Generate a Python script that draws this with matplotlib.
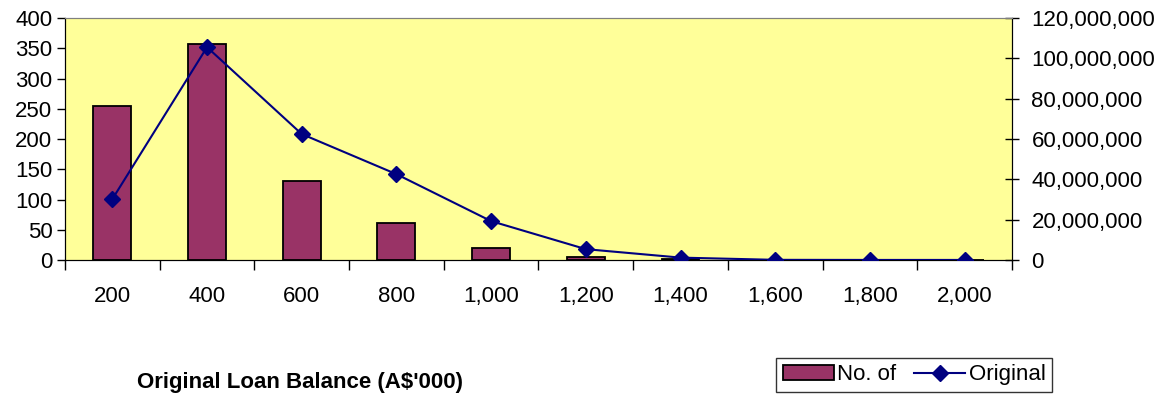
import numpy as np
import matplotlib.pyplot as plt
from matplotlib.ticker import FuncFormatter

plt.rcParams['font.family'] = ['Liberation Sans', 'DejaVu Sans']

balance = ['200', '400', '600', '800', '1,000', '1,200', '1,400', '1,600', '1,800', '2,000']
no_of_loans = [254, 357, 130, 62, 20, 5, 1.5, 0, 0, 0]
original_bal = [30.2e6, 105.6e6, 62.5e6, 42.6e6, 19.3e6, 5.4e6, 1.2e6, 0.1e6, 0.05e6, 0.05e6]

fig = plt.figure()
fig.set_size_inches(11.6, 3.94)
ax = fig.add_axes([0.056, 0.34, 0.8164, 0.614])
ax.set_facecolor('#FFFF99')
x = np.arange(len(balance))

ax.bar(x, no_of_loans, width=0.4, color='#993366', edgecolor='black', linewidth=1.3,
       label='No. of', zorder=2)
ax.set_xlim(-0.5, len(balance) - 0.5)
ax.set_ylim(0, 400)
ax.set_yticks(np.arange(0, 401, 50))
ax.set_xticks(x)
ax.set_xticklabels(balance)
ax.set_xticks(np.arange(-0.5, len(balance), 1.0), minor=True)
ax.tick_params(axis='x', which='major', length=0, pad=19, labelsize=16)
ax.tick_params(axis='x', which='minor', length=7, width=1, direction='out')
ax.tick_params(axis='y', length=6, width=1, direction='out', labelsize=16, pad=3)
for s in ['left', 'bottom', 'right']:
    ax.spines[s].set_color('black')
ax.spines['top'].set_color('#808080')

ax2 = ax.twinx()
ax2.plot(x, original_bal, color='#000080', linewidth=1.5, marker='D', markersize=8,
         label='Original', zorder=3)
ax2.set_ylim(0, 120e6)
ax2.set_yticks(np.arange(0, 120e6 + 1, 20e6))
ax2.yaxis.set_major_formatter(FuncFormatter(lambda v, p: f'{v:,.0f}'))
ax2.tick_params(axis='y', length=10, width=1, direction='inout', labelsize=16, pad=9)
ax2.spines['right'].set_color('black')
ax2.spines['top'].set_color('#808080')

fig.text(0.118, 0.016, "Original Loan Balance (A$'000)", fontsize=16, fontweight='bold',
         va='baseline')

h1, l1 = ax.get_legend_handles_labels()
h2, l2 = ax2.get_legend_handles_labels()
fig.legend(h1 + h2, l1 + l2, loc='lower right', bbox_to_anchor=(0.907, 0.005), ncol=2,
           frameon=True, fancybox=False, edgecolor='black', fontsize=16,
           handlelength=2.3, handletextpad=0.15, columnspacing=0.8, borderpad=0.3,
           borderaxespad=0.0)

plt.savefig('out.png', dpi=100)
plt.close()
